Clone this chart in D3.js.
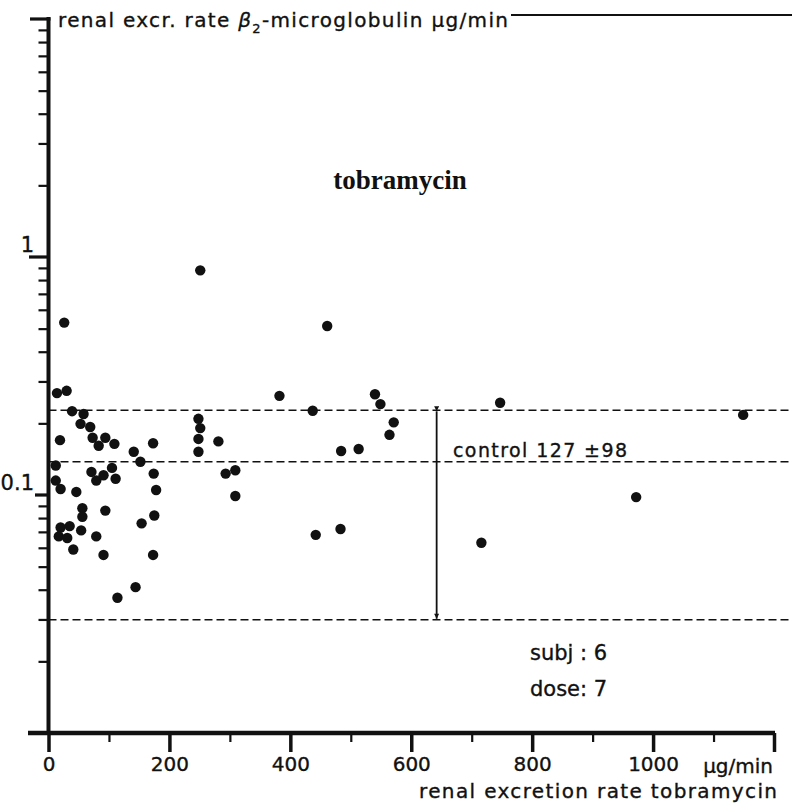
<!DOCTYPE html>
<html>
<head>
<meta charset="utf-8">
<script src="https://cdn.jsdelivr.net/npm/d3@7"></script>
<style>
  html, body { margin: 0; padding: 0; background: #fff; }
  svg { display: block; }
  text.sans { font-family: "DejaVu Sans", sans-serif; fill: #111; stroke: #111; stroke-width: 0.35px; }
</style>
</head>
<body>
<svg id="chart" width="792" height="805"></svg>
<script>
// ---- data ----
const tobraRate = [26, 14, 30, 39, 58, 53, 69, 19, 73, 83, 94, 109, 141, 173, 152, 12, 12, 20, 71, 79,
  91, 105, 111, 46, 174, 178, 56, 56, 94, 20, 35, 17, 31, 54, 79, 41, 91, 154, 175, 173,
  114, 144, 248, 251, 248, 248, 281, 293, 309, 309, 251, 461, 382, 437, 540, 549, 571, 564, 484, 513,
  442, 483, 747, 1149, 972, 716];
const b2mRate = [0.53, 0.268, 0.274, 0.225, 0.219, 0.199, 0.193, 0.170, 0.174, 0.161, 0.174, 0.164, 0.152, 0.165, 0.138, 0.133, 0.115, 0.106, 0.125, 0.115,
  0.121, 0.130, 0.117, 0.103, 0.123, 0.105, 0.088, 0.081, 0.086, 0.073, 0.074, 0.067, 0.066, 0.071, 0.067, 0.059, 0.056, 0.076, 0.082, 0.056,
  0.037, 0.041, 0.209, 0.191, 0.172, 0.152, 0.168, 0.123, 0.127, 0.099, 0.879, 0.513, 0.261, 0.226, 0.265, 0.241, 0.202, 0.179, 0.153, 0.156,
  0.068, 0.072, 0.244, 0.217, 0.098, 0.063];
const controlLines = [0.227, 0.138, 0.0299];   // mean+sd, mean, mean-sd as drawn
const arrowX = 642;
const xMajorTicks = [0, 200, 400, 600, 800, 1000, 1200];
const xTickLabels = ["0", "200", "400", "600", "800", "1000", ""];
const xMinorTicks = [100, 300, 500, 700, 900, 1100];
const yLabelTicks = [1, 0.1];
const yLabelText = ["1", "0.1"];

// ---- scales ----
const x = d3.scaleLinear().domain([0, 1200]).range([48.5, 774]);
const y = d3.scaleLog().domain([0.01, 10]).range([733, 19]);

const svg = d3.select("#chart");
svg.append("rect").attr("width", 792).attr("height", 805).attr("fill", "#fff");

// control dashed lines
svg.selectAll("line.ctrl").data(controlLines).enter().append("line")
  .attr("x1", x(0)).attr("x2", 792)
  .attr("y1", d => y(d)).attr("y2", d => y(d))
  .attr("stroke", "#111").attr("stroke-width", 1.4).attr("stroke-dasharray", "8,4");

// arrow
const defs = svg.append("defs");
defs.append("marker").attr("id", "ah2").attr("viewBox", "0 0 10 10")
  .attr("refX", 10).attr("refY", 5).attr("markerWidth", 10).attr("markerHeight", 5)
  .attr("markerUnits", "userSpaceOnUse").attr("orient", "auto")
  .append("path").attr("d", "M0,0 L10,5 L0,10 z").attr("fill", "#111");
svg.append("line")
  .attr("x1", x(arrowX)).attr("x2", x(arrowX))
  .attr("y1", y(controlLines[0]) + 1).attr("y2", y(controlLines[2]) - 1)
  .attr("stroke", "#111").attr("stroke-width", 1.8)
  .attr("marker-start", "url(#ah2)").attr("marker-end", "url(#ah2)");

// ---- y axis ----
const yAxis = d3.axisLeft(y).tickValues(
  d3.range(-2, 1).flatMap(e => d3.range(2, 10).map(k => k * Math.pow(10, e)))
).tickSize(10).tickFormat("");
const gy = svg.append("g").attr("transform", `translate(${x(0)},0)`).call(yAxis);
gy.select(".domain").remove();
gy.selectAll(".tick line").attr("stroke", "#111").attr("stroke-width", 2.2);

// major y ticks
const yMajor = svg.append("g");
yMajor.append("line").attr("x1", 29).attr("x2", x(0)).attr("y1", y(1)).attr("y2", y(1))
  .attr("stroke", "#111").attr("stroke-width", 3.2);
yMajor.append("line").attr("x1", 35).attr("x2", x(0)).attr("y1", y(0.1)).attr("y2", y(0.1))
  .attr("stroke", "#111").attr("stroke-width", 3.2);
yMajor.append("line").attr("x1", 30).attr("x2", x(0) + 2).attr("y1", y(10)).attr("y2", y(10))
  .attr("stroke", "#111").attr("stroke-width", 3.2);
svg.selectAll("text.ylab").data(yLabelTicks).enter().append("text")
  .attr("class", "ylab sans")
  .attr("x", 34).attr("y", d => y(d) - 5)
  .attr("text-anchor", "end").attr("font-size", 21)
  .text((d, i) => yLabelText[i]);

// y axis line
svg.append("line").attr("x1", x(0)).attr("x2", x(0)).attr("y1", 17).attr("y2", 735)
  .attr("stroke", "#111").attr("stroke-width", 4);

// ---- x axis ----
const xAxisMinor = d3.axisBottom(x).tickValues(xMinorTicks).tickSize(9).tickFormat("");
const gxm = svg.append("g").attr("transform", `translate(0,${y(0.01)})`).call(xAxisMinor);
gxm.select(".domain").remove();
gxm.selectAll(".tick line").attr("stroke", "#111").attr("stroke-width", 2.2);

const xAxisMajor = d3.axisBottom(x).tickValues(xMajorTicks).tickSize(19).tickPadding(6)
  .tickFormat((d, i) => xTickLabels[i]);
const gx = svg.append("g").attr("transform", `translate(0,${y(0.01)})`).call(xAxisMajor);
gx.select(".domain").remove();
gx.selectAll(".tick line").attr("stroke", "#111").attr("stroke-width", 3.5);
gx.selectAll(".tick text").attr("class", "sans").attr("font-size", 20)
  .attr("dy", "0.35em").attr("y", 31);

svg.append("line").attr("x1", 28).attr("x2", x(1200) + 1).attr("y1", y(0.01)).attr("y2", y(0.01))
  .attr("stroke", "#111").attr("stroke-width", 4.5);

svg.append("text").attr("class", "sans").attr("x", 773).attr("y", 773).attr("text-anchor", "end")
  .attr("font-size", 20).text("µg/min");

// ---- axis titles ----
const yt = svg.append("text").attr("class", "sans").attr("x", 58).attr("y", 27).attr("font-size", 20);
yt.append("tspan").text("renal excr. rate  ");
yt.append("tspan").attr("font-style", "italic").text("β");
yt.append("tspan").attr("font-size", 13).attr("dy", 6).text("2");
yt.append("tspan").attr("dy", -6).text("-microglobulin  µg/min");
yt.attr("textLength", 450).attr("lengthAdjust", "spacing");
svg.append("line").attr("x1", 511).attr("x2", 792).attr("y1", 15).attr("y2", 15)
  .attr("stroke", "#111").attr("stroke-width", 2);

svg.append("text").attr("class", "sans").attr("x", 777).attr("y", 798).attr("text-anchor", "end")
  .attr("font-size", 20).attr("textLength", 358).attr("lengthAdjust", "spacing")
  .text("renal excretion rate  tobramycin");

// ---- annotations ----
svg.append("text").attr("x", 400).attr("y", 189).attr("text-anchor", "middle")
  .attr("font-weight", "bold").attr("font-size", 27)
  .style("font-family", "'Liberation Serif', serif").style("fill", "#111").text("tobramycin");

svg.append("text").attr("class", "sans").attr("x", 453).attr("y", 457).attr("font-size", 19)
  .attr("textLength", 174).attr("lengthAdjust", "spacing")
  .text("control  127 ±98");

svg.append("text").attr("class", "sans").attr("x", 530).attr("y", 660).attr("font-size", 21).text("subj : 6");
svg.append("text").attr("class", "sans").attr("x", 530).attr("y", 696).attr("font-size", 21).text("dose: 7");

// ---- points ----
svg.selectAll("circle.pt").data(tobraRate).enter().append("circle")
  .attr("class", "pt")
  .attr("cx", d => x(d))
  .attr("cy", (d, i) => y(b2mRate[i]))
  .attr("r", 5.2)
  .attr("fill", "#111");
</script>
</body>
</html>
